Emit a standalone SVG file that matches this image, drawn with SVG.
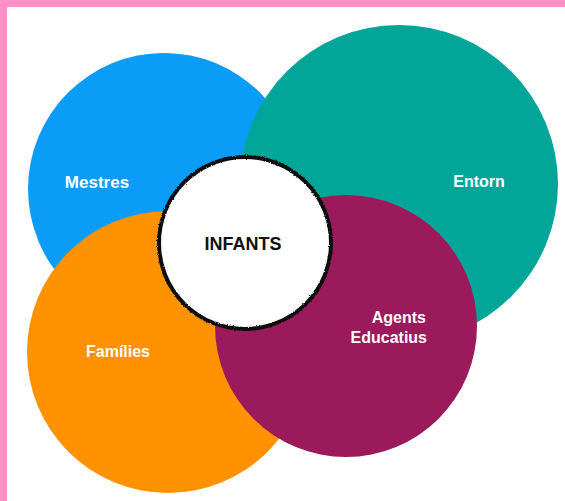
<svg xmlns="http://www.w3.org/2000/svg" width="565" height="501" viewBox="0 0 565 501">
<style>
.lbl{font-family:"Liberation Sans",Arial,sans-serif;font-weight:bold;fill:#ffffff;font-size:16px}
.ctr{font-family:"Liberation Sans",Arial,sans-serif;font-weight:bold;fill:#111111;font-size:18px}
</style>
<defs>
<filter id="rough" x="-10%" y="-10%" width="120%" height="120%">
<feTurbulence type="fractalNoise" baseFrequency="0.9" numOctaves="2" seed="3" result="n"/>
<feDisplacementMap in="SourceGraphic" in2="n" scale="2.5" xChannelSelector="R" yChannelSelector="G"/>
</filter>
</defs>
<rect x="0" y="0" width="565" height="501" fill="#ffffff"/>
<rect x="0" y="0" width="565" height="7" fill="#FF90C8"/>
<rect x="0" y="0" width="7" height="501" fill="#FF90C8"/>
<g id="mestres">
<circle cx="164" cy="189" r="136" fill="#0A9CF7"/>
<text class="lbl" x="97" y="188" text-anchor="middle" style="font-size:17px">Mestres</text>
</g>
<g id="entorn">
<circle cx="399" cy="184" r="159" fill="#02A699"/>
<text class="lbl" x="479" y="187" text-anchor="middle">Entorn</text>
</g>
<g id="families">
<circle cx="168" cy="352" r="141" fill="#FF9200"/>
<text class="lbl" x="118" y="357" text-anchor="middle">Famílies</text>
</g>
<g id="agents">
<circle cx="346" cy="326" r="131" fill="#9A1A5B"/>
<text class="lbl" x="426" y="323" text-anchor="end">Agents</text>
<text class="lbl" x="427" y="343" text-anchor="end">Educatius</text>
</g>
<g id="infants">
<circle cx="245" cy="243" r="86" fill="#ffffff" stroke="#111111" stroke-width="4" filter="url(#rough)"/>
<text class="ctr" x="243" y="250" text-anchor="middle">INFANTS</text>
</g>
<g id="connectors"></g>
</svg>
